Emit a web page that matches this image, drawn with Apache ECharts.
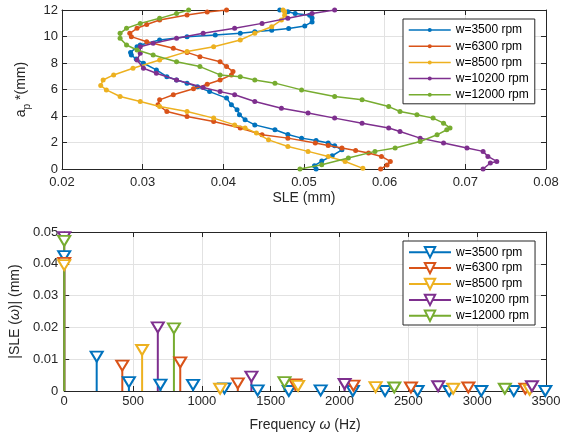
<!DOCTYPE html>
<html>
<head>
<meta charset="utf-8">
<script src="https://cdn.jsdelivr.net/npm/echarts@6/dist/echarts.min.js"></script>
<style>
  html, body { margin: 0; padding: 0; background: #fff; }
  #chart { width: 565px; height: 437px; }
</style>
</head>
<body>
<div id="chart"></div>
<script>
const speeds = [3500, 6300, 8500, 10200, 12000];
const colors = ['#0072BD', '#D95319', '#EDB120', '#7E2F8E', '#77AC30'];
const labels = speeds.map(s => 'w=' + s + ' rpm');

// top plot: [SLE (mm), ap* (mm)]
const profile3500 = [[0.0515,0.0],[0.0513,0.25],[0.0522,0.6],[0.0535,1.0],[0.0547,1.45],[0.0538,1.75],[0.053,1.96],[0.0515,2.15],[0.0497,2.33],[0.048,2.6],[0.0464,2.96],[0.0439,3.33],[0.0427,3.71],[0.042,4.1],[0.0417,4.47],[0.041,4.84],[0.0404,5.35],[0.0383,5.84],[0.0368,6.2],[0.0355,6.48],[0.0342,6.72],[0.033,6.97],[0.0317,7.48],[0.0301,7.98],[0.0292,8.3],[0.0286,8.6],[0.0285,8.8],[0.0293,9.23],[0.0297,9.36],[0.0321,9.74],[0.0355,9.99],[0.039,10.12],[0.0421,10.24],[0.0439,10.36],[0.046,10.48],[0.0481,10.6],[0.0501,10.8],[0.051,11.1],[0.051,11.4],[0.0507,11.6],[0.0489,11.74],[0.048,11.87],[0.047,12.0]];
const profile6300 = [[0.0595,0.0],[0.0603,0.3],[0.0607,0.57],[0.0596,0.95],[0.058,1.2],[0.0564,1.4],[0.0547,1.58],[0.053,1.78],[0.0514,1.96],[0.048,2.33],[0.0448,2.58],[0.0421,3.1],[0.0388,3.58],[0.0355,3.96],[0.033,4.34],[0.0319,4.84],[0.0321,5.22],[0.0338,5.6],[0.0363,6.05],[0.038,6.4],[0.0396,6.72],[0.041,7.1],[0.0412,7.35],[0.0404,7.73],[0.0396,8.1],[0.0371,8.48],[0.0355,8.8],[0.0338,9.11],[0.0305,9.61],[0.0286,9.99],[0.0284,10.24],[0.0293,10.62],[0.0305,10.9],[0.0321,11.24],[0.0355,11.62],[0.038,11.85],[0.0404,12.0]];
const profile8500 = [[0.0573,0.05],[0.0551,0.57],[0.053,0.95],[0.0505,1.33],[0.048,1.7],[0.0456,2.2],[0.0441,2.71],[0.0427,3.09],[0.0414,3.33],[0.0388,3.84],[0.0355,4.34],[0.0321,4.71],[0.0297,5.09],[0.0272,5.47],[0.0255,5.97],[0.0248,6.3],[0.0251,6.72],[0.0264,7.1],[0.0288,7.6],[0.0321,8.23],[0.0355,8.86],[0.0388,9.23],[0.0421,9.74],[0.0439,10.24],[0.046,10.74],[0.0472,11.24],[0.0476,11.6],[0.0476,11.87],[0.0474,12.0]];
const profile10200 = [[0.0722,0.0],[0.0731,0.45],[0.0739,0.57],[0.0728,0.95],[0.0722,1.33],[0.0702,1.58],[0.0673,1.96],[0.0644,2.33],[0.0619,2.83],[0.0605,3.09],[0.0572,3.46],[0.0538,3.84],[0.0505,4.22],[0.0472,4.59],[0.0439,5.09],[0.0414,5.6],[0.0396,5.84],[0.0375,6.15],[0.0342,6.72],[0.0317,7.23],[0.0301,7.6],[0.0293,8.23],[0.0297,8.73],[0.0297,9.23],[0.0313,9.49],[0.0342,9.86],[0.0375,10.24],[0.0414,10.62],[0.0448,10.99],[0.048,11.37],[0.051,11.74],[0.0538,12.0]];
const profile12000 = [[0.0495,0.0],[0.0522,0.32],[0.0555,0.83],[0.0588,1.33],[0.0613,1.58],[0.0644,2.08],[0.0665,2.58],[0.0677,2.96],[0.0681,3.09],[0.0673,3.46],[0.066,3.84],[0.064,4.09],[0.0619,4.34],[0.0605,4.71],[0.0572,5.22],[0.0538,5.47],[0.0497,5.97],[0.0464,6.48],[0.0439,6.72],[0.0421,6.97],[0.0396,7.1],[0.0371,7.73],[0.0342,8.1],[0.0313,8.6],[0.0293,8.98],[0.028,9.36],[0.0272,9.86],[0.0272,10.24],[0.028,10.62],[0.0297,10.99],[0.0321,11.37],[0.0342,11.74],[0.0357,12.0]];

// bottom plot: [frequency (Hz), |SLE(w)| (mm)]
const spectrum3500 = [[0,0.0424],[236,0.0108],[470,0.0028],[699,0.0020],[936,0.0019],[1164,0.0008],[1405,0.0002],[1632,0.0],[1863,0.0002],[2097,0.0],[2331,0.0],[2567,0.0],[2797,0.0],[3030,0.0],[3266,0.0],[3495,0.0]];
const spectrum6300 = [[0,0.0403],[422,0.0080],[843,0.0090],[1261,0.0024],[1680,0.0021],[2101,0.0017],[2519,0.0011],[2936,0.0011],[3350,0.0007]];
const spectrum8500 = [[0,0.0396],[566,0.0129],[1133,0.0007],[1699,0.0016],[2262,0.0012],[2826,0.0007],[3381,0.0004]];
const spectrum10200 = [[0,0.0484],[680,0.0200],[1360,0.0045],[2037,0.0022],[2717,0.0015],[3398,0.0015]];
const spectrum12000 = [[0,0.0472],[797,0.0197],[1600,0.0028],[2398,0.0011],[3201,0.0007]];

const profiles = [profile3500, profile6300, profile8500, profile10200, profile12000];
const spectra = [spectrum3500, spectrum6300, spectrum8500, spectrum10200, spectrum12000];

const ink = '#262626';
const font = 'Liberation Sans, Arial, sans-serif';

const chart = echarts.init(document.getElementById('chart'), null, { renderer: 'canvas' });

function boxAxis(gridIndex, position, min, max, interval) {
  return {
    gridIndex: gridIndex, type: 'value', position: position, min: min, max: max, interval: interval,
    axisLine: { show: true, onZero: false, lineStyle: { color: ink, width: 1 } },
    axisTick: { show: true, inside: true, length: 5, lineStyle: { color: ink } },
    axisLabel: { show: false },
    splitLine: { show: false }
  };
}

function mainAxis(gridIndex, position, min, max, interval, fmt, margin) {
  const a = boxAxis(gridIndex, position, min, max, interval);
  a.axisLabel = { show: true, fontSize: 13, color: ink, margin: margin, formatter: fmt, fontFamily: font };
  a.splitLine = { show: true, lineStyle: { color: '#e2e2e2', width: 1 } };
  a.nameLocation = 'middle';
  a.nameTextStyle = { fontSize: 14, color: ink, fontFamily: font };
  return a;
}

const xSle = mainAxis(0, 'bottom', 0.02, 0.08, 0.01, v => v.toFixed(2), 7);
xSle.name = 'SLE (mm)';
xSle.nameGap = 22;

const yAp = mainAxis(0, 'left', 0, 12, 2, v => String(v), 4);
yAp.name = '{n|a}{s|p}{n| *(mm)}';
yAp.nameGap = 22;
yAp.nameTextStyle.rich = {
  n: { fontSize: 14, color: ink, fontFamily: font, lineHeight: 22, verticalAlign: 'middle' },
  s: { fontSize: 10, color: ink, fontFamily: font, lineHeight: 22, verticalAlign: 'bottom' }
};

const xFreq = mainAxis(1, 'bottom', 0, 3500, 500, v => String(v), 4);
xFreq.name = 'Frequency {i|ω} (Hz)';
xFreq.nameGap = 27;
xFreq.nameTextStyle.rich = { i: { fontSize: 14, color: ink, fontFamily: font, fontStyle: 'italic' } };

const yAmp = mainAxis(1, 'left', 0, 0.05, 0.01, v => (v === 0 ? '0' : v.toFixed(2)), 6);
yAmp.name = '|SLE ({i|ω})| (mm)';
yAmp.nameGap = 30;
yAmp.nameTextStyle.rich = { i: { fontSize: 14, color: ink, fontFamily: font, fontStyle: 'italic' } };

const series = [];
profiles.forEach((d, i) => {
  series.push({
    type: 'line', name: labels[i], xAxisIndex: 0, yAxisIndex: 0, data: d,
    symbol: 'circle', symbolSize: 5, showSymbol: true,
    lineStyle: { width: 1.5, color: colors[i] }, itemStyle: { color: colors[i] },
    z: 2 + i * 0.01
  });
});
// spectrum markers (first, so the legend takes its icon from them)
spectra.forEach((d, i) => {
  series.push({
    type: 'line', name: 'spec' + speeds[i], xAxisIndex: 2, yAxisIndex: 2, data: d,
    symbol: 'emptyTriangle', symbolRotate: 180, symbolSize: [12, 10], showSymbol: true,
    lineStyle: { opacity: 0, width: 2, color: colors[i] }, itemStyle: { color: colors[i] },
    clip: false, z: 4
  });
});
// stems
spectra.forEach((d, i) => {
  series.push({
    type: 'custom', name: 'spec' + speeds[i], xAxisIndex: 2, yAxisIndex: 2, data: d,
    encode: { x: 0, y: 1 }, z: 3, clip: false,
    renderItem: (params, api) => {
      const top = api.coord([api.value(0), api.value(1)]);
      const base = api.coord([api.value(0), 0]);
      return {
        type: 'line',
        shape: { x1: base[0], y1: base[1], x2: top[0], y2: top[1] },
        style: { stroke: colors[i], lineWidth: 2 }
      };
    }
  });
});

const legendBase = {
  orient: 'vertical', itemWidth: 42, borderColor: ink, borderWidth: 1, backgroundColor: '#fff',
  textStyle: { fontSize: 12, color: '#000', fontFamily: font }, selectedMode: false
};

const option = {
  animation: false,
  backgroundColor: '#fff',
  textStyle: { fontFamily: font },
  grid: [
    { left: 62, top: 10, width: 484, height: 159 },
    { left: 62, top: 232, width: 484, height: 159 }
  ],
  xAxis: [xSle, boxAxis(0, 'top', 0.02, 0.08, 0.01), xFreq, boxAxis(1, 'top', 0, 3500, 500)],
  yAxis: [yAp, boxAxis(0, 'right', 0, 12, 2), yAmp, boxAxis(1, 'right', 0, 0.05, 0.01)],
  legend: [
    Object.assign({}, legendBase, {
      left: 403, top: 19, itemHeight: 5, itemGap: 4.2, padding: [5, 6, 3, 5],
      data: labels, lineStyle: { width: 1.5 }
    }),
    Object.assign({}, legendBase, {
      left: 403, top: 241, itemHeight: 13, itemGap: 3.5, padding: [5, 6, 3, 5],
      data: speeds.map(s => 'spec' + s),
      formatter: name => labels[speeds.indexOf(Number(name.slice(4)))],
      lineStyle: { width: 2, opacity: 1 }
    })
  ],
  series: series
};

chart.setOption(option);
</script>
</body>
</html>
